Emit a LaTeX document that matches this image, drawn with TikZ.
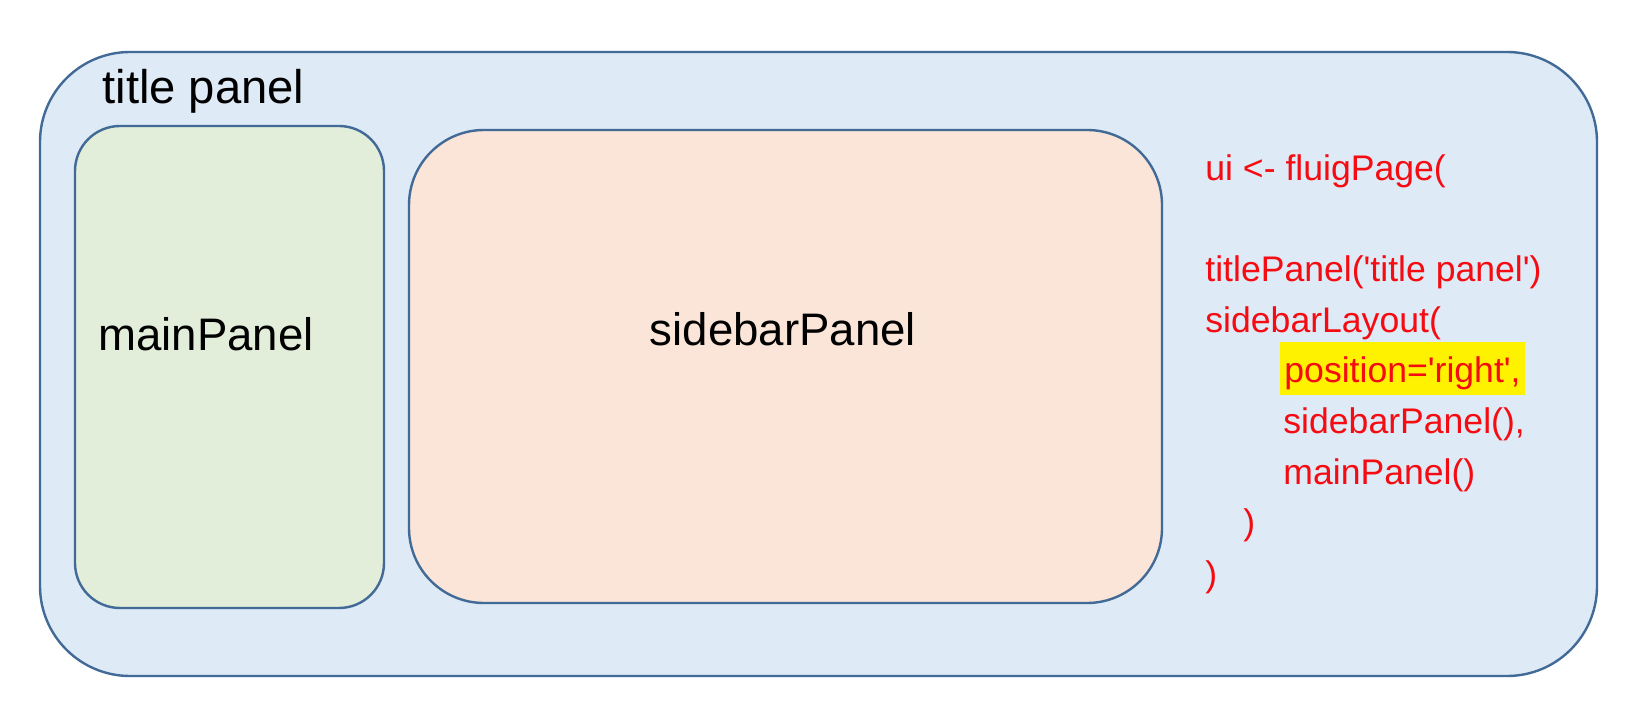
\documentclass[tikz,border=0pt]{standalone}
\usepackage{fontspec}
\setmainfont{Liberation Sans}
\usepackage{tikz}
\usetikzlibrary{positioning}

\definecolor{panelline}{RGB}{66,106,150}
\definecolor{titlefill}{RGB}{222,234,246}
\definecolor{mainfill}{RGB}{226,238,218}
\definecolor{sidefill}{RGB}{250,229,216}
\definecolor{codered}{RGB}{245,12,18}

\tikzset{
  panel/.style={draw=panelline, line width=1.2pt, inner sep=0pt},
  panellabel/.style={anchor=base west, inner sep=0pt, font=\fontsize{22.8}{27}\selectfont},
  codeline/.style={anchor=base west, inner sep=0pt, text=codered, font=\fontsize{17.8}{22}\selectfont}
}

\begin{document}
\begin{tikzpicture}[x=0.5pt, y=-0.5pt]
  \useasboundingbox (0,0) rectangle (1648,710);
  % panels
  \node[panel, fill=titlefill, rounded corners=45pt,
        minimum width=778.5pt, minimum height=312pt] (titlepanel) at (818.5,364) {};
  \node[panel, fill=mainfill, rounded corners=22.5pt,
        minimum width=154.5pt, minimum height=241pt] (mainpanel) at (229.5,367) {};
  \node[panel, fill=sidefill, rounded corners=37.5pt,
        minimum width=376.5pt, minimum height=236.5pt] (sidebarpanel) at (785.5,366.5) {};
  % Labels
  \node[panellabel, font=\fontsize{23.6}{28}\selectfont] (titlelabel) at (102,104) {title panel};
  \node[panellabel] (mainlabel) at (98,351) {mainPanel};
  \node[panellabel, anchor=base] (sidebarlabel) at (783,346) {sidebarPanel};
  % code
  \node[codeline] (uiline)     at (1205,181) {ui <- fluigPage(};
  \node[codeline] (titlecall)  at (1205,282) {titlePanel(\textquotesingle title panel\textquotesingle)};
  \node[codeline] (layoutcall) at (1205,333) {sidebarLayout(};
  \node[codeline, fill=yellow, inner xsep=2pt, text height=20.5pt, text depth=6pt]
        (posarg) at (1280,383) {position=\textquotesingle right\textquotesingle,};
  \node[codeline] (sidearg)    at (1283,434) {sidebarPanel(),};
  \node[codeline] (mainarg)    at (1283,485) {mainPanel()};
  \node[codeline] (layoutend)  at (1243,535) {)};
  \node[codeline] (pageend)    at (1205,586) {)};
\end{tikzpicture}
\end{document}
